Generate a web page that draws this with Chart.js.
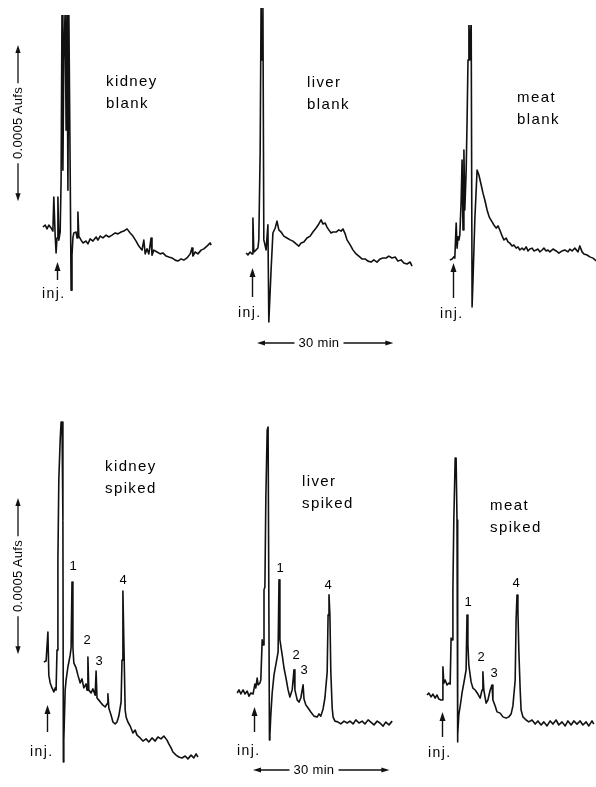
<!DOCTYPE html>
<html>
<head>
<meta charset="utf-8">
<title>Chromatograms – kidney, liver, meat: blank and spiked</title>
<script src="https://cdn.jsdelivr.net/npm/chart.js@4.4.1/dist/chart.umd.min.js"></script>
<style>
  html, body { margin: 0; padding: 0; background: #fff; }
  #page { position: relative; width: 596px; height: 787px; overflow: hidden; background: #fff; }
  #page canvas { position: absolute; }
  #marks { position: absolute; left: 0; top: 0; }
  .txt { position: absolute; font-family: "Liberation Sans", Arial, sans-serif; color: #000; white-space: nowrap; will-change: transform; }
  .name { font-size: 15px; line-height: 22px; letter-spacing: 1.4px; }
  .inj { font-size: 14px; line-height: 16px; letter-spacing: 1.4px; }
  .peak { font-size: 13px; line-height: 14px; transform: translate(-50%, -50%); }
  .scale { font-size: 13px; line-height: 14px; letter-spacing: 0.3px; transform: translate(-50%, -50%); }
  .scale.rot { transform: translate(-50%, -50%) rotate(-90deg); }
</style>
</head>
<body>
<div id="page"><svg id="marks" width="596" height="787"></svg></div>
<script>
/* recorder traces: [minutes after injection, signal in µAU] */
const kidneyBlank = [
  [-3.1,0],[-2.6,6],[-2.2,-6],[-1.8,6],[-1.3,-3],[-0.9,-13],[-0.7,96],[-0.4,-29],[-0.2,-83],[0,-35],
  [0.2,96],[0.4,-42],[0.7,-16],[0.9,150],[1.1,700],[1.3,182],[1.5,534],[1.8,700],[2.0,310],[2.2,700],
  [2.4,118],[2.6,700],[2.9,182],[3.1,-202],[3.3,-90],[3.5,-35],[3.7,-19],[4.2,-16],[4.4,-35],[4.6,48],
  [4.8,-29],[5.3,-42],[5.7,-51],[6.4,-45],[6.8,-54],[7.3,-38],[7.9,-45],[8.6,-32],[9.0,-42],[9.5,-29],
  [10.1,-35],[10.8,-26],[11.4,-32],[12.1,-26],[12.8,-19],[13.4,-22],[14.1,-16],[14.7,-13],[15.4,-6],[16.1,-19],
  [16.7,-29],[17.4,-45],[18.0,-61],[18.7,-74],[19.1,-42],[19.4,-86],[19.8,-70],[20.2,-86],[20.7,-35],[20.9,-90],
  [21.3,-74],[22.0,-80],[22.7,-86],[23.3,-83],[24.0,-93],[24.6,-96],[25.3,-99],[26.0,-106],[26.6,-109],[27.3,-102],
  [27.9,-106],[28.6,-99],[29.3,-86],[29.7,-67],[29.9,-93],[30.4,-80],[31.0,-86],[31.7,-74],[32.3,-70],[33.0,-61],
  [33.7,-51],[33.9,-58]
];
const liverBlank = [
  [-1.3,0],[-0.9,-6],[-0.4,3],[0,-3],[0.2,112],[0.4,3],[0.9,10],[1.3,16],[1.5,42],[1.8,330],
  [2.0,800],[2.2,618],[2.4,800],[2.6,42],[3.1,10],[3.5,90],[3.7,-221],[4.2,-54],[4.6,64],[5.1,80],
  [5.5,102],[5.9,74],[6.4,67],[7.0,54],[7.7,48],[8.4,42],[9.0,38],[9.7,29],[10.3,22],[10.8,32],
  [11.4,35],[12.1,48],[12.8,54],[13.4,67],[14.1,80],[14.7,93],[15.2,106],[15.6,93],[16.1,96],[16.5,83],
  [16.9,74],[17.4,64],[17.8,67],[18.5,67],[19.1,74],[19.6,70],[20.0,77],[20.5,61],[20.9,42],[21.6,26],
  [22.2,10],[22.9,-3],[23.5,-10],[24.2,-19],[24.9,-19],[25.5,-26],[26.2,-29],[26.8,-22],[27.5,-29],[28.2,-19],
  [28.8,-16],[29.5,-16],[30.1,-10],[30.8,-16],[31.5,-13],[32.1,-26],[32.8,-22],[33.4,-32],[34.1,-35],[34.8,-29],
  [35.2,-42]
];
const meatBlank = [
  [-0.7,0],[-0.2,3],[0.2,10],[0.4,6],[0.7,118],[0.9,38],[1.1,74],[1.3,64],[1.5,80],[1.8,192],
  [2.0,320],[2.2,96],[2.4,352],[2.6,160],[2.9,288],[3.1,448],[3.3,640],[3.5,770],[3.7,640],[4.0,770],
  [4.2,-150],[4.4,-64],[4.8,128],[5.3,288],[5.7,272],[6.2,240],[6.6,214],[7.0,192],[7.5,160],[7.9,141],
  [8.1,134],[8.6,122],[9.0,112],[9.5,102],[9.9,109],[10.3,96],[10.8,77],[11.2,64],[11.7,70],[12.1,58],
  [12.5,54],[13.0,45],[13.4,48],[13.9,38],[14.3,42],[14.7,32],[15.2,38],[15.6,32],[16.1,42],[16.5,29],
  [16.9,35],[17.4,38],[17.8,29],[18.3,32],[18.7,35],[19.1,26],[19.6,32],[20.0,38],[20.5,29],[20.9,32],
  [21.3,26],[22.0,35],[22.7,29],[23.3,22],[24.0,29],[24.6,32],[25.3,26],[25.7,35],[26.2,29],[26.8,38],
  [27.5,26],[27.9,45],[28.4,26],[28.8,19],[29.5,16],[30.1,10],[30.8,6],[31.5,-3]
];
const kidneySpiked = [
  [-0.7,0],[-0.2,3],[0.2,96],[0.4,-42],[0.7,-67],[1.1,-83],[1.5,-96],[1.8,-83],[2.0,-90],[2.2,38],
  [2.4,326],[2.6,582],[2.9,710],[3.1,768],[3.3,768],[3.5,454],[3.6,-320],[3.7,-250],[4.0,-90],[4.2,-58],
  [4.6,-16],[5.1,22],[5.3,45],[5.5,256],[5.7,48],[5.9,-3],[6.4,-19],[6.8,-42],[7.3,-67],[7.7,-54],
  [8.1,-83],[8.6,-70],[8.8,-90],[9.0,16],[9.2,-90],[9.7,-99],[10.1,-86],[10.6,-106],[10.8,-29],[11.0,-115],
  [11.4,-122],[11.9,-131],[12.3,-138],[12.8,-144],[13.2,-134],[13.4,-102],[13.6,-147],[14.1,-170],[14.5,-192],[15.0,-198],
  [15.4,-192],[15.8,-173],[16.3,-128],[16.5,6],[16.7,227],[16.9,70],[17.2,-154],[17.4,-176],[17.8,-192],[18.3,-205],
  [18.9,-227],[19.4,-218],[19.8,-234],[20.5,-243],[21.1,-253],[21.8,-246],[22.4,-256],[23.1,-243],[23.8,-253],[24.4,-240],
  [25.1,-246],[25.7,-237],[26.4,-250],[26.8,-262],[27.3,-275],[27.7,-288],[28.4,-298],[29.0,-304],[29.7,-307],[30.4,-301],
  [31.0,-310],[31.7,-298],[32.3,-307],[32.8,-294],[33.2,-304]
];
const liverSpiked = [
  [-3.7,0],[-3.3,10],[-2.9,-3],[-2.4,10],[-2.0,-3],[-1.5,6],[-1.1,-10],[-0.7,0],[-0.2,-3],[0.2,29],
  [0.4,16],[0.7,48],[0.9,26],[1.3,32],[1.5,42],[1.8,170],[2.0,154],[2.2,330],[2.4,339],[2.6,618],
  [2.9,842],[3.1,851],[3.3,851],[3.4,-150],[3.5,-134],[3.7,-70],[4.0,0],[4.4,58],[4.8,90],[5.3,131],
  [5.5,362],[5.7,170],[6.2,122],[6.6,80],[7.0,51],[7.5,10],[7.9,-13],[8.4,10],[8.8,74],[9.0,10],
  [9.5,-22],[9.9,-29],[10.3,-16],[10.8,26],[11.0,-19],[11.4,-38],[11.9,-48],[12.5,-61],[13.2,-74],[13.9,-77],
  [14.3,-67],[14.7,-74],[15.2,-51],[15.6,-16],[16.1,67],[16.3,250],[16.5,314],[16.7,250],[16.9,67],[17.2,-48],
  [17.4,-77],[17.8,-90],[18.5,-93],[19.1,-99],[19.8,-90],[20.5,-96],[21.1,-90],[21.8,-99],[22.4,-86],[23.1,-96],
  [23.8,-90],[24.4,-99],[25.1,-86],[25.7,-93],[26.4,-102],[27.1,-90],[27.7,-96],[28.4,-106],[29.0,-93],[29.7,-102],
  [30.4,-90]
];
const meatSpiked = [
  [-3.3,0],[-2.9,6],[-2.4,-6],[-2.0,3],[-1.5,-10],[-1.1,0],[-0.7,-13],[-0.2,-16],[0,-16],[0.2,90],
  [0.4,38],[0.7,48],[1.1,32],[1.5,38],[1.8,35],[2.0,182],[2.2,176],[2.4,336],[2.6,560],[2.9,758],
  [3.1,758],[3.3,560],[3.4,-150],[3.5,-128],[3.7,-64],[4.2,-16],[4.4,6],[4.8,38],[5.3,80],[5.5,256],
  [5.7,160],[5.9,96],[6.4,42],[6.8,22],[7.3,16],[7.9,3],[8.4,-10],[8.8,16],[9.0,74],[9.2,16],
  [9.7,-26],[10.1,-16],[10.6,16],[11.0,32],[11.2,-16],[11.7,-35],[12.1,-54],[12.8,-58],[13.4,-70],[14.1,-74],
  [14.7,-70],[15.2,-61],[15.6,-35],[16.1,48],[16.3,240],[16.5,320],[16.7,272],[16.9,144],[17.2,16],[17.4,-48],
  [17.8,-70],[18.5,-80],[19.1,-86],[19.8,-80],[20.5,-93],[21.1,-83],[21.8,-96],[22.4,-86],[23.1,-99],[23.8,-83],
  [24.4,-93],[25.1,-80],[25.7,-96],[26.4,-86],[27.1,-99],[27.7,-83],[28.4,-96],[29.0,-83],[29.7,-93],[30.4,-83],
  [31.0,-96],[31.7,-86],[32.3,-99],[33.0,-83],[33.4,-93]
];

// numbered peaks on the spiked runs (retention time, min)
const peakNames = ['1', '2', '3', '4'];
const kidneyPeaks = [5.5, 9.0, 10.8, 16.7];
const liverPeaks = [5.5, 8.8, 10.8, 16.5];
const meatPeaks = [5.5, 9.0, 11.0, 16.5];

// scale bars
const timeBarMin = 30;       // "30 min"
const signalBarUAU = 500;    // 0.0005 AUFS

// chart speed / sensitivity on paper
const PX_PER_MIN = 1 / 0.22;
const PX_PER_UAU = 1 / 3.2;
const INK = '#111';

// layout: origin = [x at injection, y of signal 0], box = [left, top, right, bottom]
const panels = [
  { trace: kidneyBlank, name: ['kidney', 'blank'], origin: [57, 227], box: [40, 15, 215, 300], arrow: [262, 280], nameAt: [106, 70], injAt: [42, 285] },
  { trace: liverBlank, name: ['liver', 'blank'], origin: [252, 253], box: [243, 8, 415, 325], arrow: [268, 297], nameAt: [307, 71], injAt: [238, 304] },
  { trace: meatBlank, name: ['meat', 'blank'], origin: [453, 260], box: [447, 25, 596, 310], arrow: [263, 298], nameAt: [517, 86], injAt: [440, 305] },
  { trace: kidneySpiked, name: ['kidney', 'spiked'], origin: [47, 662], box: [40, 415, 202, 765], arrow: [705, 732], nameAt: [105, 455], injAt: [30, 743],
    peaks: kidneyPeaks, peakOff: [[1, -16], [-1, -17], [3, -10], [0, -11]] },
  { trace: liverSpiked, name: ['liver', 'spiked'], origin: [254, 693], box: [233, 420, 396, 742], arrow: [707, 732], nameAt: [302, 470], injAt: [237, 742],
    peaks: liverPeaks, peakOff: [[1, -12], [2, -15], [1, -15], [-1, -10]] },
  { trace: meatSpiked, name: ['meat', 'spiked'], origin: [442, 695], box: [424, 450, 596, 745], arrow: [712, 737], nameAt: [490, 494], injAt: [428, 744],
    peaks: meatPeaks, peakOff: [[1, -13], [-2, -15], [2, -12], [-1, -12]] }
];
const timeBars = [ { x: 257, y: 343, textX: 319 }, { x: 253, y: 770, textX: 314 } ];
const signalBars = [ { x: 18, y: 45 }, { x: 18, y: 498 } ];

const page = document.getElementById('page');
const svg = document.getElementById('marks');
const SVGNS = 'http://www.w3.org/2000/svg';

function addText(cls, text, x, y) {
  const d = document.createElement('div');
  d.className = 'txt ' + cls;
  d.textContent = text;
  d.style.left = x + 'px';
  d.style.top = y + 'px';
  page.appendChild(d);
  return d;
}

function svgEl(tag, attrs) {
  const el = document.createElementNS(SVGNS, tag);
  for (const k in attrs) el.setAttribute(k, attrs[k]);
  svg.appendChild(el);
  return el;
}

// filled arrow head with its tip at (x, y)
function head(x, y, dx, dy) {
  const len = 8, half = 2.6;
  const bx = x - dx * len, by = y - dy * len;
  const pts = [[x, y], [bx - dy * half, by + dx * half], [bx + dy * half, by - dx * half]];
  svgEl('polygon', { points: pts.map(p => p.join(',')).join(' '), fill: INK });
}

// injection mark drawn at t = 0 of each trace
const injArrow = {
  id: 'injArrow',
  afterDatasetsDraw(chart, args, opts) {
    const ctx = chart.ctx;
    const x = Math.round(chart.scales.x.getPixelForValue(0)) + 0.5;
    ctx.save();
    ctx.strokeStyle = INK;
    ctx.fillStyle = INK;
    ctx.lineWidth = 1.4;
    ctx.beginPath();
    ctx.moveTo(x, opts.tip + 6);
    ctx.lineTo(x, opts.tail);
    ctx.stroke();
    ctx.beginPath();
    ctx.moveTo(x, opts.tip);
    ctx.lineTo(x - 3, opts.tip + 9);
    ctx.lineTo(x + 3, opts.tip + 9);
    ctx.closePath();
    ctx.fill();
    ctx.restore();
  }
};

panels.forEach(p => {
  const [left, top, right, bottom] = p.box;
  const [x0, y0] = p.origin;

  const cv = document.createElement('canvas');
  cv.width = right - left;
  cv.height = bottom - top;
  cv.style.left = left + 'px';
  cv.style.top = top + 'px';
  page.appendChild(cv);

  const chart = new Chart(cv, {
    type: 'scatter',
    data: {
      datasets: [{
        data: p.trace.map(d => ({ x: d[0], y: d[1] })),
        showLine: true,
        borderColor: INK,
        borderWidth: 1.6,
        borderJoinStyle: 'round',
        pointRadius: 0,
        tension: 0
      }]
    },
    options: {
      responsive: false,
      animation: false,
      events: [],
      layout: { padding: 0 },
      plugins: {
        legend: { display: false },
        tooltip: { enabled: false },
        injArrow: { tip: p.arrow[0] - top, tail: p.arrow[1] - top }
      },
      scales: {
        x: { type: 'linear', display: false, min: (left - x0) / PX_PER_MIN, max: (right - x0) / PX_PER_MIN },
        y: { type: 'linear', display: false, min: (y0 - bottom) / PX_PER_UAU, max: (y0 - top) / PX_PER_UAU }
      }
    },
    plugins: [injArrow]
  });

  addText('name', p.name[0], p.nameAt[0], p.nameAt[1]);
  addText('name', p.name[1], p.nameAt[0], p.nameAt[1] + 22);
  addText('inj', 'inj.', p.injAt[0], p.injAt[1]);

  if (p.peaks) {
    p.peaks.forEach((t, i) => {
      const apex = p.trace.find(d => d[0] === t);
      const px = left + chart.scales.x.getPixelForValue(t) + p.peakOff[i][0];
      const py = top + chart.scales.y.getPixelForValue(apex[1]) + p.peakOff[i][1];
      addText('peak', peakNames[i], px, py);
    });
  }
});

// 30 min bars
timeBars.forEach(b => {
  const len = timeBarMin * PX_PER_MIN;
  const lbl = addText('scale', timeBarMin + ' min', b.textX, b.y);
  const gap = lbl.offsetWidth / 2 + 4;
  svgEl('line', { x1: b.x + 4, y1: b.y, x2: b.textX - gap, y2: b.y, stroke: INK, 'stroke-width': 1.3 });
  svgEl('line', { x1: b.textX + gap, y1: b.y, x2: b.x + len - 4, y2: b.y, stroke: INK, 'stroke-width': 1.3 });
  head(b.x, b.y, -1, 0);
  head(b.x + len, b.y, 1, 0);
});

// 0.0005 Aufs bars
signalBars.forEach(b => {
  const len = signalBarUAU * PX_PER_UAU;
  const mid = b.y + len / 2;
  const lbl = addText('scale rot', '0.0005 Aufs', b.x, mid);
  const gap = lbl.offsetWidth / 2 + 4;
  svgEl('line', { x1: b.x, y1: b.y + 4, x2: b.x, y2: mid - gap, stroke: INK, 'stroke-width': 1.3 });
  svgEl('line', { x1: b.x, y1: mid + gap, x2: b.x, y2: b.y + len - 4, stroke: INK, 'stroke-width': 1.3 });
  head(b.x, b.y, 0, -1);
  head(b.x, b.y + len, 0, 1);
});
</script>
</body>
</html>
